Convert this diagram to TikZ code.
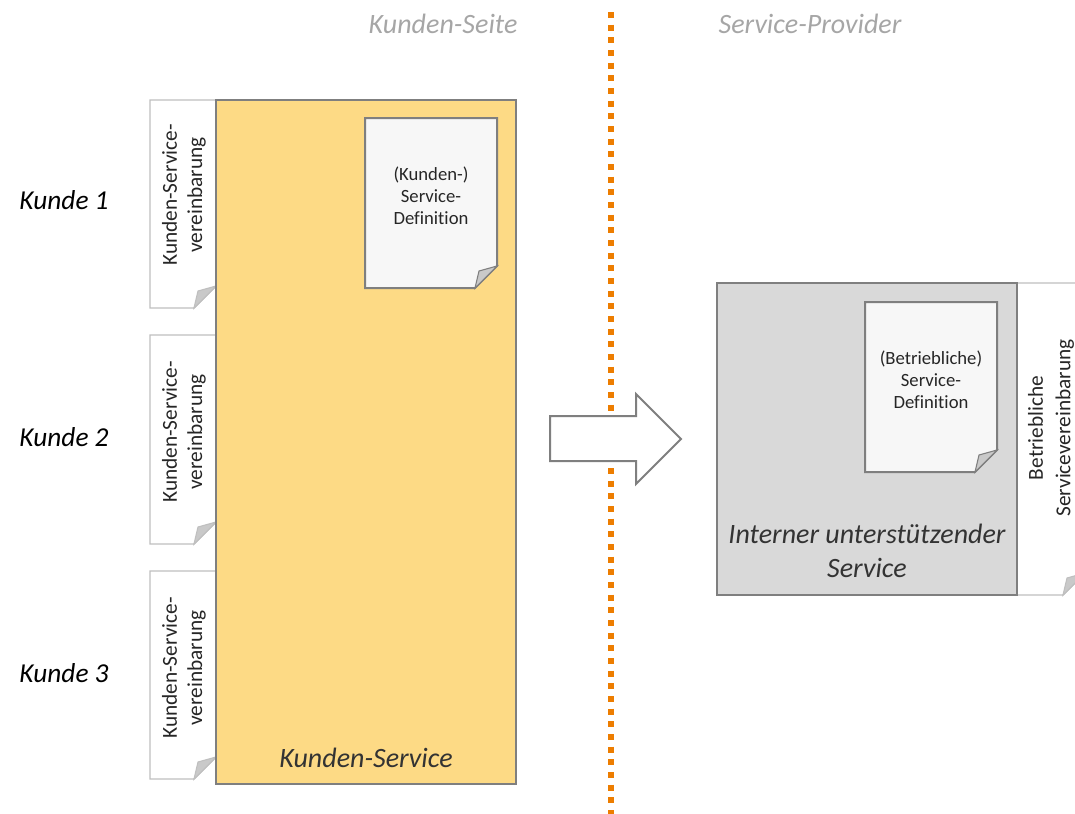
\documentclass[tikz,border=0pt]{standalone}
\usepackage{fontspec}
\setmainfont[Ligatures=CommonOff]{Carlito}

\definecolor{kundenfill}{HTML}{FDDA85}
\definecolor{internfill}{HTML}{D9D9D9}
\definecolor{pagefill}{HTML}{F7F7F7}
\definecolor{foldfill}{HTML}{C9C9C9}
\definecolor{darkedge}{HTML}{7F7F7F}
\definecolor{lightedge}{HTML}{BFBFBF}
\definecolor{sidetext}{HTML}{A6A6A6}
\definecolor{borderline}{HTML}{ED7D00}

\tikzset{
    servicebox/.style={draw=darkedge, line width=1.5pt},
    darkpage/.style={draw=darkedge, fill=pagefill, line width=1.5pt},
    lightpage/.style={draw=lightedge, fill=white, line width=1.1pt},
    pagetext/.style={align=center, font=\fontsize{14}{16.5}\selectfont, text=black!85, inner sep=0pt},
    notetext/.style={align=center, font=\fontsize{16}{19}\selectfont, text=black!85, rotate=90, inner sep=0pt},
    widenotetext/.style={notetext, font=\fontsize{16}{20.5}\selectfont},
    sidelabel/.style={font=\fontsize{21}{25}\selectfont\itshape, text=sidetext, inner sep=0pt},
    kundelabel/.style={font=\fontsize{20.5}{25}\selectfont\itshape, inner sep=0pt},
    servicelabel/.style={align=center, font=\fontsize{21}{25.5}\selectfont\itshape, text=black!80, inner sep=0pt},
}

% left, top, right, bottom, style
\newcommand\foldpage[5]{
    \draw [#5] (#1,#2) -- (#3,#2) -- (#3,#4-22) -- (#3-22,#4) -- (#1,#4) -- cycle;
    \draw [#5, fill=foldfill, line width=0.8pt] (#3,#4-22) -- (#3-18,#4-17) -- (#3-22,#4) -- cycle;
}

\begin{document}
\begin{tikzpicture}[x=0.75pt,y=-0.75pt]

    \useasboundingbox (0,0) rectangle (1075,814);
    \clip (0,0) rectangle (1075,814);

    \coordinate (linetop) at (611,12);
    \coordinate (linebottom) at (611,815);
    \draw [borderline, line width=4.5pt, dash pattern=on 4.5pt off 5pt] (linetop) -- (linebottom);

    \node [sidelabel] (kundenseite) at (443,24) {Kunden-Seite};
    \node [sidelabel] (provider) at (810,24) {Service-Provider};

    \foreach \n/\t/\b/\c in {1/100/308/200, 2/335/544/437, 3/571/779/673}{
        \foldpage{150}{\t}{216}{\b}{lightpage}
        \node [notetext] (vereinbarung\n) at (184,\c-5) {Kunden-Service-\\vereinbarung};
        \node [kundelabel] (kunde\n) at (64,\c) {Kunde \n};
    }

    \draw [servicebox, fill=kundenfill] (216,100) rectangle (516,784);
    \foldpage{365}{118}{497}{288}{darkpage}
    \node [pagetext] (kundendef) at (431,196) {(Kunden-)\\Service-\\Definition};
    \node [servicelabel] (kundenservice) at (366,758) {Kunden-Service};

    \draw [servicebox, fill=white]
        (550,416) -- (636,416) -- (636,394) -- (681,439) -- (636,484) -- (636,461) -- (550,461) -- cycle;

    \foldpage{1017}{283}{1085}{595}{lightpage}
    \node [widenotetext] (betriebvereinbarung) at (1051,428) {Betriebliche\\Servicevereinbarung};

    \draw [servicebox, fill=internfill] (717,283) rectangle (1017,595);
    \foldpage{865}{302}{997}{472}{darkpage}
    \node [pagetext] (betriebdef) at (931,380) {(Betriebliche)\\Service-\\Definition};
    \node [servicelabel] (internservice) at (867,551) {Interner unterstützender\\Service};

\end{tikzpicture}
\end{document}
